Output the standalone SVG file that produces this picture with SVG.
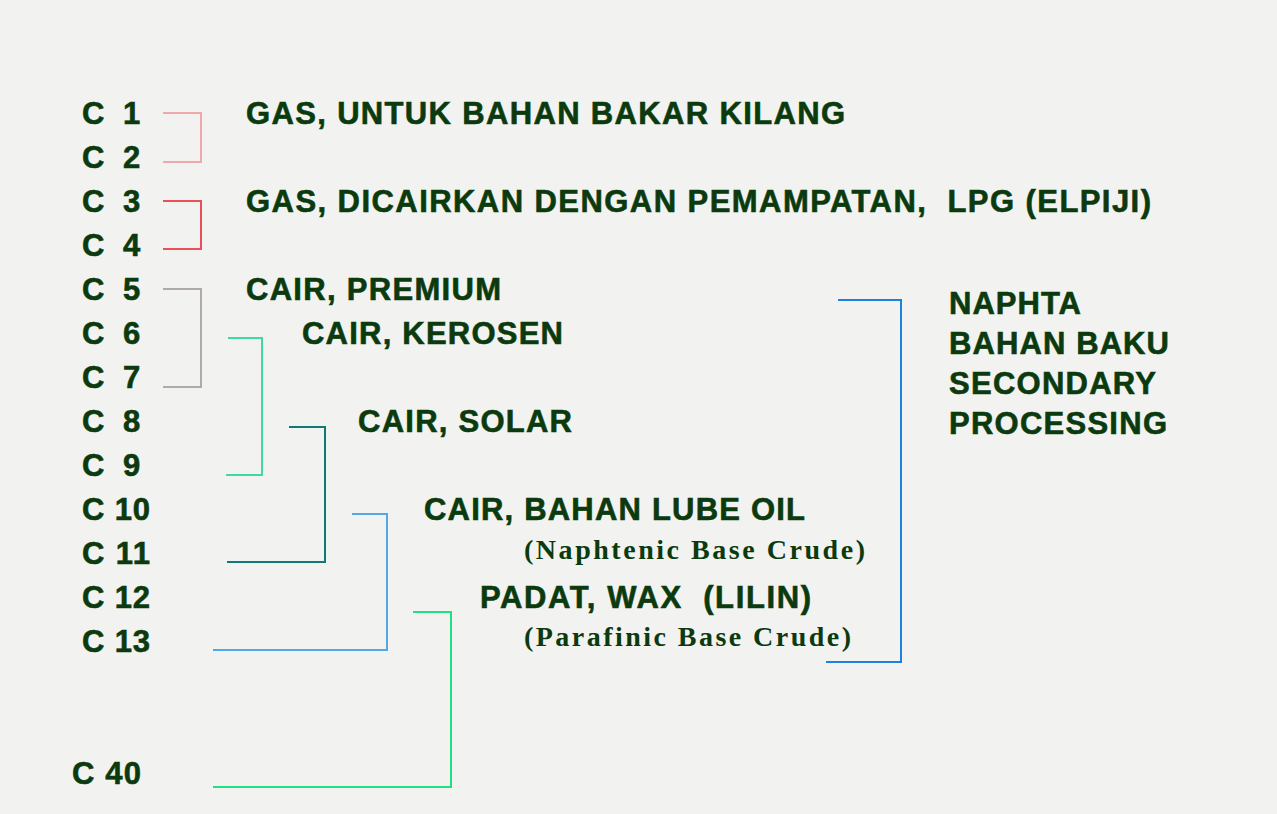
<svg xmlns="http://www.w3.org/2000/svg" width="1277" height="814" viewBox="0 0 1277 814">
<style>
.t{font-family:"Liberation Sans",Arial,sans-serif;font-weight:bold;font-size:31px;fill:#0b3a0e;stroke:#0b3a0e;stroke-width:0.6}
.s{font-family:"Liberation Serif","Times New Roman",serif;font-weight:bold;font-size:28px;fill:#0b3a0e}
.c{fill:none;stroke-width:2}
</style>
<rect width="1277" height="814" fill="#f2f2f0"/>
<g id="labels">
<text class="t" x="82" y="124">C</text><text class="t" x="123" y="124">1</text>
<text class="t" x="82" y="168">C</text><text class="t" x="123" y="168">2</text>
<text class="t" x="82" y="212">C</text><text class="t" x="123" y="212">3</text>
<text class="t" x="82" y="256">C</text><text class="t" x="123" y="256">4</text>
<text class="t" x="82" y="300">C</text><text class="t" x="123" y="300">5</text>
<text class="t" x="82" y="344">C</text><text class="t" x="123" y="344">6</text>
<text class="t" x="82" y="388">C</text><text class="t" x="123" y="388">7</text>
<text class="t" x="82" y="432">C</text><text class="t" x="123" y="432">8</text>
<text class="t" x="82" y="476">C</text><text class="t" x="123" y="476">9</text>
<text class="t" x="82" y="520" textLength="68">C 10</text>
<text class="t" x="82" y="564" textLength="68">C 11</text>
<text class="t" x="82" y="608" textLength="68">C 12</text>
<text class="t" x="82" y="652" textLength="68">C 13</text>
<text class="t" x="72" y="784" textLength="69">C 40</text>
</g>
<g id="products">
<text class="t" x="246" y="124" textLength="599">GAS, UNTUK BAHAN BAKAR KILANG</text>
<text class="t" x="246" y="212" textLength="905" xml:space="preserve">GAS, DICAIRKAN DENGAN PEMAMPATAN,  LPG (ELPIJI)</text>
<text class="t" x="246" y="300" textLength="255">CAIR, PREMIUM</text>
<text class="t" x="302" y="344" textLength="261">CAIR, KEROSEN</text>
<text class="t" x="358" y="432" textLength="214">CAIR, SOLAR</text>
<text class="t" x="424" y="520" textLength="381">CAIR, BAHAN LUBE OIL</text>
<text class="s" x="524" y="559" textLength="341">(Naphtenic Base Crude)</text>
<text class="t" x="480" y="608" textLength="331" xml:space="preserve">PADAT, WAX  (LILIN)</text>
<text class="s" x="524" y="646" textLength="327">(Parafinic Base Crude)</text>
<text class="t" x="949" y="314" textLength="132">NAPHTA</text>
<text class="t" x="949" y="354" textLength="220">BAHAN BAKU</text>
<text class="t" x="949" y="394" textLength="207">SECONDARY</text>
<text class="t" x="949" y="434" textLength="218">PROCESSING</text>
</g>
<g id="connectors">
<polyline class="c" stroke="#f0a8a8" points="163,113 201,113 201,162 163,162"/>
<polyline class="c" stroke="#e8505a" points="163,201 201,201 201,249 163,249"/>
<polyline class="c" stroke="#b0aaaa" points="163,289 201,289 201,387 163,387"/>
<polyline class="c" stroke="#40d8a8" points="228,338 262,338 262,475 226,475"/>
<polyline class="c" stroke="#107878" points="289,427 325,427 325,562 227,562"/>
<polyline class="c" stroke="#50a8e8" points="352,514 387,514 387,650 213,650"/>
<polyline class="c" stroke="#20e080" points="413,612 451,612 451,787 213,787"/>
<polyline class="c" stroke="#2080e0" points="838,300 901,300 901,662 826,662"/>
</g>
</svg>
